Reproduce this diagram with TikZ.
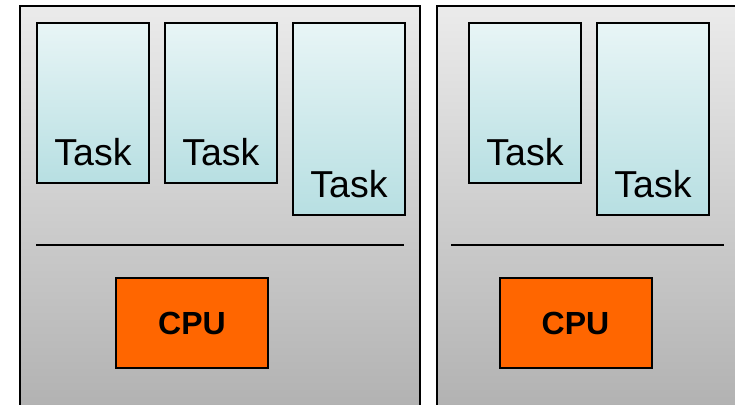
\documentclass[tikz,border=0pt]{standalone}
\usepackage{fontspec}
\setmainfont{Liberation Sans}
\begin{document}
\begin{tikzpicture}[x=1pt,y=-1pt,
  panel/.style={draw=black,line width=2pt,top color=panelTop,bottom color=panelBot,shading angle=0},
  taskbox/.style={draw=black,line width=2pt,top color=taskTop,bottom color=taskBot,inner sep=0pt,
    minimum width=112pt},
  tasktext/.style={anchor=base,inner sep=0pt,font=\fontsize{37.5}{40}\selectfont},
  cpubox/.style={draw=black,line width=2pt,fill=cpuOrange,minimum width=152pt,minimum height=90.5pt,
    inner sep=0pt,font=\fontsize{32}{34}\selectfont\bfseries},
  sep/.style={draw=black,line width=2pt}]
\definecolor{panelTop}{HTML}{EBEBEB}
\definecolor{panelBot}{HTML}{B0B0B0}
\definecolor{taskTop}{HTML}{E8F5F6}
\definecolor{taskBot}{HTML}{B7DFE2}
\definecolor{cpuOrange}{HTML}{FF6600}
\useasboundingbox (0,0) rectangle (735,404);
\clip (0,0) rectangle (735,404);
\fill[white] (0,0) rectangle (735,404);
% panels
\node[panel,minimum width=400pt,minimum height=415pt,inner sep=0pt,anchor=north west] (p1) at (19.3,5.3) {};
\node[panel,minimum width=310pt,minimum height=415pt,inner sep=0pt,anchor=north west] (p2) at (436,5.3) {};
% tasks left panel
\node[taskbox,minimum height=160.5pt,anchor=north west] (t1) at (36,21.7) {};
\node[taskbox,minimum height=160.5pt,anchor=north west] (t2) at (163.8,21.7) {};
\node[taskbox,minimum height=192.5pt,anchor=north west] (t3) at (292,21.7) {};
\node[tasktext] (l1) at ([yshift=19pt]t1.south) {Task};
\node[tasktext] (l2) at ([yshift=19pt]t2.south) {Task};
\node[tasktext] (l3) at ([yshift=19pt]t3.south) {Task};
% tasks right panel
\node[taskbox,minimum height=160.5pt,anchor=north west] (t4) at (468,21.7) {};
\node[taskbox,minimum height=192.5pt,anchor=north west] (t5) at (596,21.7) {};
\node[tasktext] (l4) at ([yshift=19pt]t4.south) {Task};
\node[tasktext] (l5) at ([yshift=19pt]t5.south) {Task};
% separators
\coordinate (s1a) at (36,245);
\coordinate (s1b) at (404.3,245);
\coordinate (s2a) at (451,245);
\coordinate (s2b) at (724,245);
\draw[sep] (s1a) -- (s1b);
\draw[sep] (s2a) -- (s2b);
% CPUs
\node[cpubox] (c1) at (192,323) {CPU};
\node[cpubox] (c2) at (575.5,323) {CPU};
\end{tikzpicture}
\end{document}
